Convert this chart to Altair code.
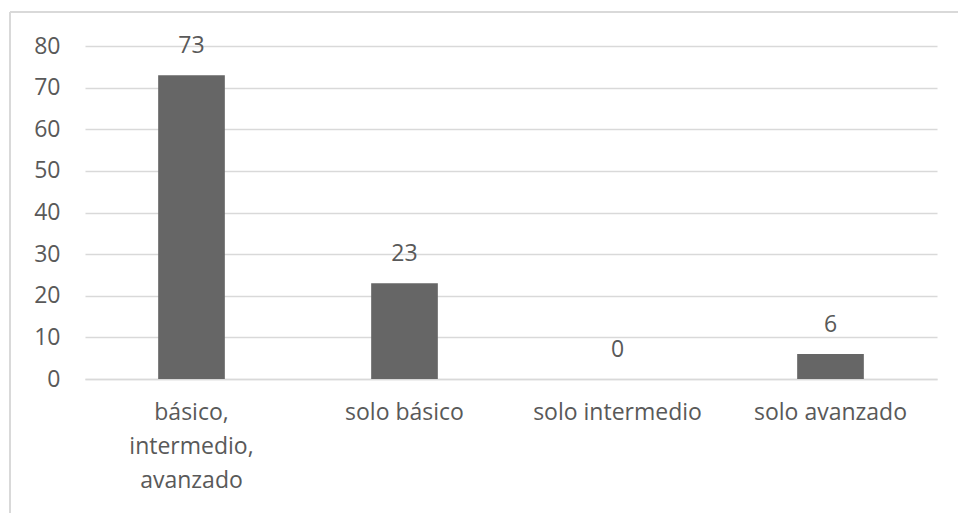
import altair as alt
import pandas as pd

categories = ["básico,|intermedio,|avanzado", "solo básico", "solo intermedio", "solo avanzado"]
values = [73, 23, 0, 6]

df = pd.DataFrame({"cat": categories, "val": values})

FONT = "Open Sans"
TXT = "#595959"
GRID = "#d9d9d9"
FS = 23

W, H = 852, 333

x = alt.X("cat:N", sort=categories,
          scale=alt.Scale(paddingInner=0, paddingOuter=0),
          axis=alt.Axis(title=None, labelAngle=0, ticks=False, domain=True,
                        domainColor=GRID, domainWidth=1.5, grid=False,
                        labelFont=FONT, labelFontSize=FS, labelColor=TXT,
                        labelPadding=22, labelLineHeight=34,
                        labelExpr="split(datum.label, '|')"))
y = alt.Y("val:Q", scale=alt.Scale(domain=[0, 80], nice=False),
          axis=alt.Axis(title=None, values=[0, 10, 20, 30, 40, 50, 60, 70, 80],
                        ticks=False, domain=False, gridColor=GRID, gridWidth=1.5,
                        labelFont=FONT, labelFontSize=FS, labelColor=TXT,
                        labelPadding=25))

bars = alt.Chart(df).mark_bar(color="#666666", width=alt.RelativeBandSize(0.313)).encode(x=x, y=y)
labels = alt.Chart(df).mark_text(font=FONT, fontSize=FS, color=TXT, baseline="middle", dy=-29).encode(
    x=alt.X("cat:N", sort=categories), y="val:Q", text="val:Q")

frame_v = alt.Chart(df).mark_rule(color="#d9d9d9", strokeWidth=1.5, clip=False).encode(
    x=alt.value(-75), y=alt.value(-34), y2=alt.value(520))
frame_h = alt.Chart(df).mark_rule(color="#d9d9d9", strokeWidth=1.5, clip=False).encode(
    x=alt.value(-75), x2=alt.value(900), y=alt.value(-34))

chart = alt.layer(frame_v, frame_h, bars, labels).properties(
    width=W, height=H,
    autosize=alt.AutoSizeParams(type="none"),
    padding={"left": 85, "top": 46, "right": 21, "bottom": 134},
    background="white",
).configure_view(strokeWidth=0, stroke="transparent")

chart.save("out.html", embed_options={"renderer": "svg", "actions": False})
